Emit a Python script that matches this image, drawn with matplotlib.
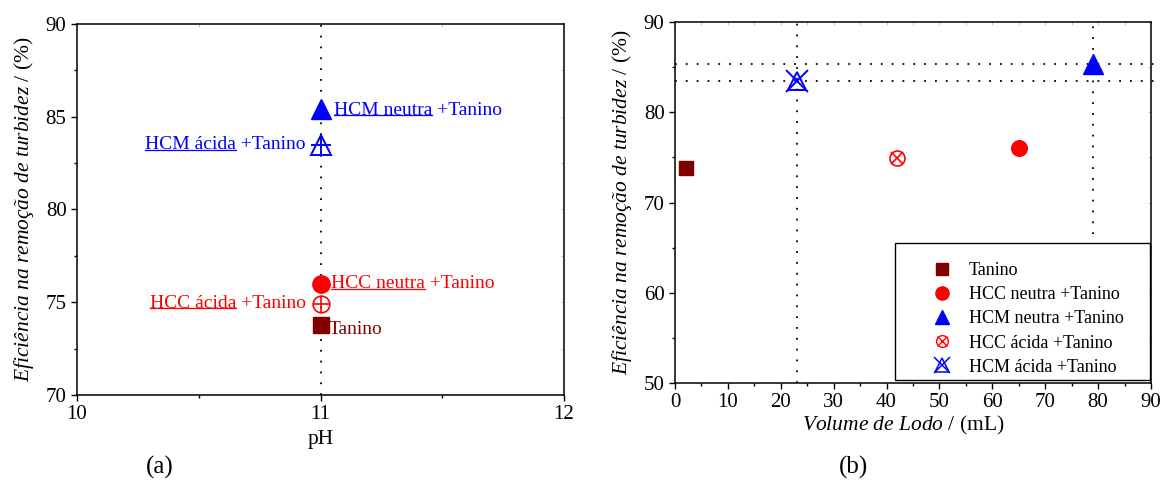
import matplotlib
matplotlib.use("Agg")
import matplotlib.pyplot as plt
from matplotlib.lines import Line2D
from matplotlib.patches import Rectangle
from matplotlib.ticker import MultipleLocator

plt.rcParams['font.family'] = ['Liberation Serif', 'DejaVu Serif']
plt.rcParams['mathtext.fontset'] = 'custom'
plt.rcParams['mathtext.rm'] = 'Liberation Serif'
plt.rcParams['mathtext.it'] = 'Liberation Serif:italic'

# ---------------- data ----------------
series = ["Tanino", "HCC neutra +Tanino", "HCM neutra +Tanino",
          "HCC ácida +Tanino", "HCM ácida +Tanino"]
ph_values = [11, 11, 11, 11, 11]
eficiencia = [73.8, 76.0, 85.4, 74.9, 83.5]
volume_lodo = [2, 65, 79, 42, 23]
colors = ["#800000", "#ff0000", "#0000ff", "#ff0000", "#0000ff"]

# annotations for panel (a)
ann_under = ["Tanino", "HCC neutra", "HCM neutra", "HCC ácida", "HCM ácida"]
ann_rest = ["", " +Tanino", " +Tanino", " +Tanino", " +Tanino"]
ann_x = [11.035, 11.045, 11.055, 10.94, 10.94]
ann_y = [73.55, 76.0, 85.35, 74.95, 83.5]
ann_ha = ["left", "left", "left", "right", "right"]
ann_ul = [False, True, True, True, True]

W, H = 1161, 482
fig = plt.figure(figsize=(W / 100, H / 100), dpi=100)
axL = fig.add_axes([77 / W, 1 - 395 / H, (564 - 77) / W, (395 - 24) / H])
axR = fig.add_axes([675 / W, 1 - 383 / H, (1151 - 675) / W, (383 - 22) / H])

FS = 14        # annotation text
TFS = 15       # tick labels
LFS = 15.5     # axis labels
dot = (0, (1, 5))

def style_axes(ax):
    for s in ax.spines.values():
        s.set_linewidth(1.1)
    ax.tick_params(which='both', direction='out', labelsize=TFS, top=False, right=False, pad=3)
    ax.tick_params(which='major', length=4.5, width=1.0)
    ax.tick_params(which='minor', length=2.5, width=1.0)
    sec_x = ax.secondary_xaxis('top')
    sec_y = ax.secondary_yaxis('right')
    for sec in (sec_x, sec_y):
        sec.tick_params(which='both', direction='in', length=2, width=0.5,
                        colors='#aaaaaa', labelsize=0)
        for s in sec.spines.values():
            s.set_visible(False)
    return sec_x, sec_y

# ---------------- panel (a) ----------------
axL.set_xlim(10, 12)
axL.set_ylim(70, 90)
axL.xaxis.set_major_locator(MultipleLocator(1))
axL.xaxis.set_minor_locator(MultipleLocator(0.5))
axL.yaxis.set_major_locator(MultipleLocator(5))
axL.yaxis.set_minor_locator(MultipleLocator(2.5))
sx, sy = style_axes(axL)
sx.xaxis.set_major_locator(MultipleLocator(0.5)); sx.set_xticklabels([])
sy.yaxis.set_major_locator(MultipleLocator(2.5)); sy.set_yticklabels([])

axL.axvline(11, color='black', lw=1.3, linestyle=dot, zorder=1)

def draw_markers(ax, x, y, i, big):
    c = colors[i]
    s = 1.0 if big else 0.9
    if i == 0:
        ax.plot([x], [y], 's', ms=11 * s, color=c, mec=c, zorder=3)
    elif i == 1:
        ax.plot([x], [y], 'o', ms=12.5 * s, color=c, mec=c, zorder=3)
    elif i == 2:
        ax.plot([x], [y], '^', ms=14.5 if big else 14, color=c, mec=c, zorder=3)
    elif i == 3:
        inner = '+' if big else 'x'
        ax.plot([x], [y], 'o', ms=12 * s, mfc='none', mec=c, mew=1.2, zorder=3)
        ax.plot([x], [y], inner, ms=12 * s if big else 9.5 * s, color=c, mew=1.2, zorder=3)
    elif i == 4:
        inner = '+' if big else 'x'
        ax.plot([x], [y], '^', ms=14 * s, mfc='none', mec=c, mew=1.4, zorder=3)
        ax.plot([x], [y], inner, ms=15 * s if big else 17 * s, color=c, mew=1.4, zorder=3)

for i in range(len(series)):
    draw_markers(axL, ph_values[i], eficiencia[i], i, True)

ylabel = "$\\mathit{Eficiência\\ na\\ remoção\\ de\\ turbidez}$ / (%)"
axL.set_ylabel(ylabel, fontsize=LFS, labelpad=7)
axL.set_xlabel("pH", fontsize=LFS, labelpad=4)

texts = []
for i in range(len(series)):
    t = axL.text(ann_x[i], ann_y[i], ann_under[i] + ann_rest[i], color=colors[i],
                 fontsize=FS, ha=ann_ha[i], va='center', zorder=4)
    texts.append(t)

# ---------------- panel (b) ----------------
axR.set_xlim(0, 90)
axR.set_ylim(50, 90)
axR.xaxis.set_major_locator(MultipleLocator(10))
axR.xaxis.set_minor_locator(MultipleLocator(5))
axR.yaxis.set_major_locator(MultipleLocator(10))
axR.yaxis.set_minor_locator(MultipleLocator(5))
sx2, sy2 = style_axes(axR)
sx2.xaxis.set_major_locator(MultipleLocator(5)); sx2.set_xticklabels([])
sy2.yaxis.set_major_locator(MultipleLocator(5)); sy2.set_yticklabels([])

axR.plot([volume_lodo[4], volume_lodo[4]], [50, 90], color='black', lw=1.3, linestyle=dot, zorder=1)
axR.plot([volume_lodo[2], volume_lodo[2]], [66.5, 90], color='black', lw=1.3, linestyle=dot, zorder=1)
axR.plot([0, 90.5], [eficiencia[2], eficiencia[2]], color='black', lw=1.3, linestyle=dot,
         zorder=1, clip_on=False)
axR.plot([0, 90.5], [eficiencia[4], eficiencia[4]], color='black', lw=1.3, linestyle=dot,
         zorder=1, clip_on=False)

for i in range(len(series)):
    draw_markers(axR, volume_lodo[i], eficiencia[i], i, False)

axR.set_ylabel(ylabel, fontsize=LFS, labelpad=7)
axR.set_xlabel("$\\mathit{Volume\\ de\\ Lodo}$ / (mL)", fontsize=LFS, labelpad=1)
axR.xaxis.label.set_x(0.479)

# legend handles
h = [
    Line2D([], [], marker='s', ls='none', ms=8, color=colors[0]),
    Line2D([], [], marker='o', ls='none', ms=9.5, color=colors[1]),
    Line2D([], [], marker='^', ls='none', ms=10.5, color=colors[2]),
    (Line2D([], [], marker='o', ls='none', ms=8.5, mfc='none', mec=colors[3], mew=1.0),
     Line2D([], [], marker='x', ls='none', ms=6.5, color=colors[3], mew=1.0)),
    (Line2D([], [], marker='^', ls='none', ms=10, mfc='none', mec=colors[4], mew=1.1),
     Line2D([], [], marker='x', ls='none', ms=12, color=colors[4], mew=1.1)),
]
leg = axR.legend(h, series, loc='upper left', bbox_to_anchor=(0.462, 0.363, 0.535, 0.0),
                 mode='expand', fontsize=13, frameon=False,
                 borderpad=0.55, handlelength=4.1, handletextpad=-0.55,
                 labelspacing=0.4, borderaxespad=0)
# legend frame box
axR.add_patch(Rectangle((0.462, 0.008), 0.536, 0.38, transform=axR.transAxes,
                        fill=True, facecolor='white', edgecolor='black', lw=1.0,
                        zorder=4.5, clip_on=False))
leg.set_zorder(5)

fig.text(160 / W, 1 - 467 / H, "(a)", fontsize=18, ha='center', va='center')
fig.text(853 / W, 1 - 467 / H, "(b)", fontsize=18, ha='center', va='center')

# underlines for annotations
fig.canvas.draw()
r = fig.canvas.get_renderer()
inv = fig.transFigure.inverted()
for i, t in enumerate(texts):
    if not ann_ul[i]:
        continue
    bb = t.get_window_extent(r)
    tmp = fig.text(0, 0, ann_under[i], fontsize=FS)
    wpart = tmp.get_window_extent(r).width
    tmp.remove()
    y = bb.y0 + 0.2 * bb.height
    x0 = bb.x0
    x1 = bb.x0 + wpart
    (fx0, fy), (fx1, _) = inv.transform([(x0, y), (x1, y)])
    fig.add_artist(Line2D([fx0, fx1], [fy, fy], transform=fig.transFigure,
                          color=colors[i], lw=0.9))

fig.savefig("out.png", dpi=100)
